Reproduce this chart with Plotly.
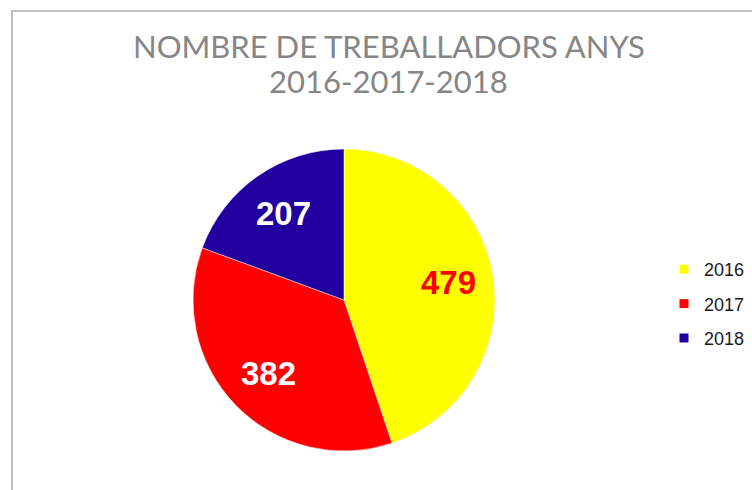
import math
import plotly.graph_objects as go

years = ["2016", "2017", "2018"]
workers = [479, 382, 207]
slice_colors = ["#FFFF00", "#FF0000", "#2200A0"]
label_colors = ["#FF0000", "#FFFFFF", "#FFFFFF"]
title_line1 = "NOMBRE DE TREBALLADORS ANYS"
title_line2 = "2016-2017-2018"

W, H = 752, 490
cx, cy, r = 344, 300, 151
label_radius = 0.70

fig = go.Figure()
fig.add_trace(go.Pie(
    labels=years,
    values=workers,
    sort=False,
    direction="clockwise",
    rotation=0,
    marker=dict(colors=slice_colors, line=dict(color="white", width=0.5)),
    textinfo="none",
    showlegend=False,
    domain=dict(x=[(cx - r) / W, (cx + r) / W], y=[(H - cy - r) / H, (H - cy + r) / H]),
    hoverinfo="label+value",
))

# legend entries (one per year, spaced as groups)
for yr, col in zip(years, slice_colors):
    fig.add_trace(go.Scatter(
        x=[None], y=[None], mode="markers", name=yr, legendgroup=yr,
        marker=dict(symbol="square", size=9, color=col),
        showlegend=True, hoverinfo="skip",
    ))

# value labels at slice mid-angles (derived from the data)
total = sum(workers)
annotations = []
cum = 0.0
for v, tc in zip(workers, label_colors):
    mid = (cum + v / 2) / total * 2 * math.pi
    cum += v
    px = cx + label_radius * r * math.sin(mid)
    py = cy - label_radius * r * math.cos(mid)
    annotations.append(dict(
        text=f"<b>{v}</b>", xref="paper", yref="paper",
        x=px / W, y=(H - py) / H, xanchor="center", yanchor="middle",
        showarrow=False,
        font=dict(family="Liberation Sans, Arial", size=33, color=tc),
    ))

annotations += [
    dict(text=title_line1, xref="paper", yref="paper", x=389 / W, y=(H - 46) / H,
         xanchor="center", yanchor="middle", showarrow=False,
         font=dict(family="Lato", size=31, color="#868686")),
    dict(text=title_line2, xref="paper", yref="paper", x=388 / W, y=(H - 81) / H,
         xanchor="center", yanchor="middle", showarrow=False,
         font=dict(family="Lato", size=31, color="#868686")),
]

fig.update_layout(
    width=W, height=H,
    margin=dict(l=0, r=0, t=0, b=0, autoexpand=False),
    paper_bgcolor="white",
    plot_bgcolor="rgba(0,0,0,0)",
    xaxis=dict(visible=False),
    yaxis=dict(visible=False),
    showlegend=True,
    legend=dict(
        x=664 / W, y=(H - 251) / H, xanchor="left", yanchor="top",
        font=dict(family="Liberation Sans, Arial", size=18, color="#1A1A1A"),
        itemwidth=30, tracegroupgap=8, bgcolor="rgba(0,0,0,0)",
    ),
    shapes=[dict(type="rect", xref="paper", yref="paper",
                 x0=12 / W, x1=1.05, y0=-0.05, y1=(H - 11) / H,
                 line=dict(color="#BFBFBF", width=2), fillcolor="rgba(0,0,0,0)")],
    annotations=annotations,
)

fig.write_html("out.html", config={"displayModeBar": False},
               post_script="document.body.style.margin='0';")
